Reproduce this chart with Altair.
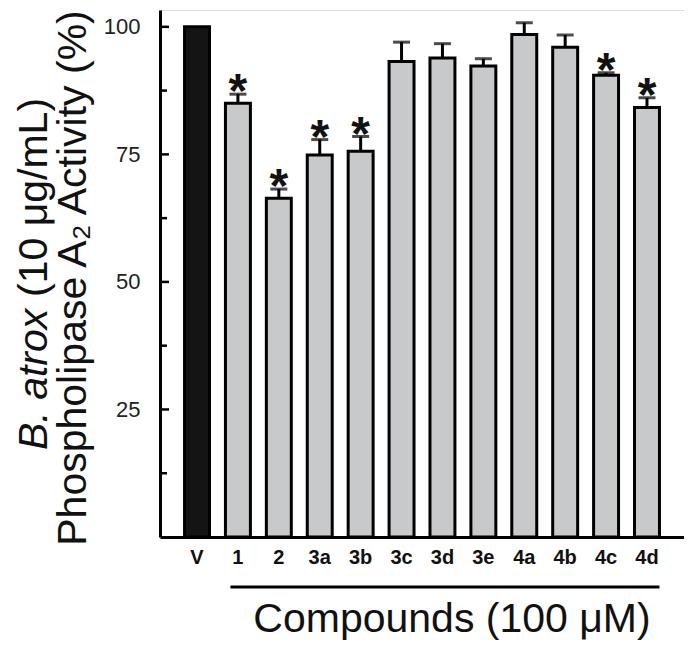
import altair as alt
import pandas as pd

# ---- data ----
categories = ["V", "1", "2", "3a", "3b", "3c", "3d", "3e", "4a", "4b", "4c", "4d"]
activity = [100.0, 85.0, 66.4, 74.9, 75.6, 93.2, 93.9, 92.3, 98.5, 96.0, 90.5, 84.2]
sem = [0.0, 1.8, 1.8, 3.0, 2.9, 3.8, 2.8, 1.45, 2.3, 2.4, 0.5, 1.9]
significance = ["", "*", "*", "*", "*", "", "", "", "", "", "*", "*"]
major_ticks = [25, 50, 75, 100]
minor_ticks = [12.5, 37.5, 62.5, 87.5]

y_title_italic = "B. atrox"
y_title_rest = "(10 μg/mL)"
y_title_line2 = "Phospholipase A₂ Activity (%)"
x_title = "Compounds (100 μM)"

FONT = "Liberation Sans"
W, H = 524, 527

df = pd.DataFrame({"cat": categories, "act": activity, "sem": sem, "sig": significance})
df["top"] = df["act"] + df["sem"]

xs = alt.Scale(domain=categories, paddingInner=0.39, paddingOuter=0.6)
ys = alt.Scale(domain=[0, 103.3], nice=False)

X = alt.X("cat:N", scale=xs, sort=categories,
          axis=alt.Axis(ticks=False, tickSize=0, labelAngle=0, labelFontSize=20,
                        labelFontWeight="bold", labelPadding=10, domainWidth=3,
                        domainColor="black", labelColor="#111", title=None, labelFont=FONT))
Y = alt.Y("act:Q", scale=ys,
          axis=alt.Axis(values=major_ticks, ticks=False, tickSize=0, labelPadding=20,
                        labelFontSize=22, domainWidth=3, domainColor="black", grid=False,
                        labelColor="#222", title=None, labelFont=FONT))

base = alt.Chart(df)

bars = base.mark_bar(stroke="black", strokeWidth=3).encode(
    x=X, y=Y,
    fill=alt.condition(alt.datum.cat == "V", alt.value("#141414"), alt.value("#c8c9cb")),
)

err = base.transform_filter(alt.datum.sem > 0)
err_rule = err.mark_rule(color="black", strokeWidth=3).encode(
    x=alt.X("cat:N", scale=xs, sort=categories), y=alt.Y("act:Q", scale=ys), y2="top:Q")
err_cap = err.mark_tick(color="black", size=17, thickness=3).encode(
    x=alt.X("cat:N", scale=xs, sort=categories), y=alt.Y("top:Q", scale=ys))

stars = base.transform_filter(alt.datum.sig != "").mark_text(
    fontSize=48, fontWeight="bold", font=FONT, color="#111", baseline="alphabetic", dy=13
).encode(x=alt.X("cat:N", scale=xs, sort=categories), y=alt.Y("top:Q", scale=ys), text="sig:N")

tick_major = alt.Chart(pd.DataFrame({"v": major_ticks})).mark_rule(color="black", strokeWidth=2.5).encode(
    y=alt.Y("v:Q", scale=ys), x=alt.value(0), x2=alt.value(9))
tick_minor = alt.Chart(pd.DataFrame({"v": minor_ticks})).mark_rule(color="black", strokeWidth=2.5).encode(
    y=alt.Y("v:Q", scale=ys), x=alt.value(0), x2=alt.value(7))

underline = alt.Chart(pd.DataFrame({"a": ["1"], "b": ["4d"]})).mark_rule(color="black", strokeWidth=3).encode(
    x=alt.X("a:N", scale=xs, sort=categories, bandPosition=0.2),
    x2=alt.X2("b:N", bandPosition=1.0),
    y=alt.value(H + 50))

def label(text, x, y, angle=0, align="center", style="normal", size=41):
    return alt.Chart(pd.DataFrame({"t": [text]})).mark_text(
        font=FONT, fontSize=size, fontStyle=style, angle=angle, align=align,
        baseline="alphabetic", color="#111"
    ).encode(text="t:N", x=alt.value(x), y=alt.value(y))

t1a = label(y_title_italic, -113, 440, angle=270, align="left", style="italic")
t1b = label(y_title_rest, -113, 287, angle=270, align="left")
t2 = label(y_title_line2, -74, 268, angle=270, align="center")
tx = label(x_title, 292, H + 95)

chart = alt.layer(bars, err_rule, err_cap, stars, tick_major, tick_minor, underline,
                  t1a, t1b, t2, tx).properties(
    width=W, height=H,
    autosize=alt.AutoSizeParams(type="none"),
    padding={"left": 152, "top": 2, "right": 0, "bottom": 104},
).configure_view(strokeWidth=0).configure(font=FONT)

chart.save("out.html", embed_options={"renderer": "svg", "actions": False})
